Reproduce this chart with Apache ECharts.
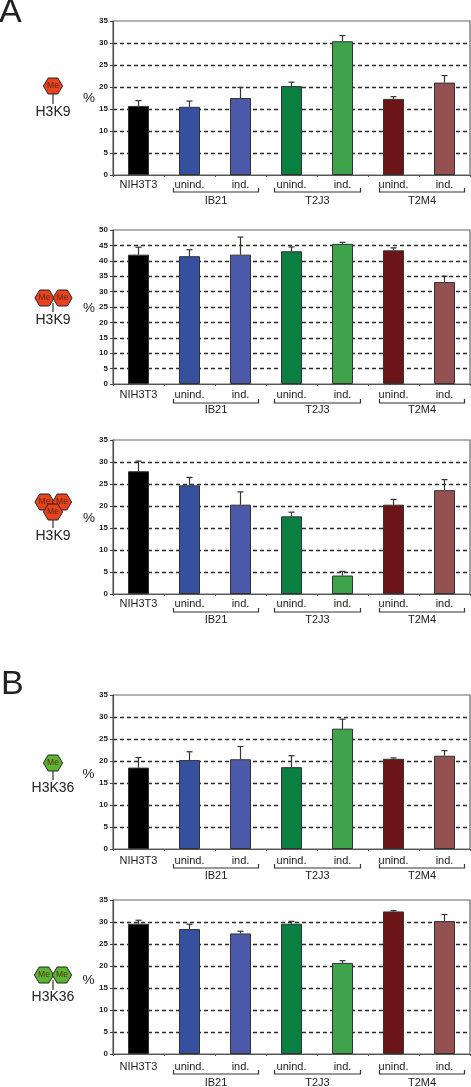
<!DOCTYPE html>
<html>
<head>
<meta charset="utf-8">
<style>html,body{margin:0;padding:0;background:#fff}#c{width:471px;height:1087px}</style>
<script src="https://cdn.jsdelivr.net/npm/echarts@6/dist/echarts.min.js"></script>
</head>
<body>
<div id="c"></div>
<script>
// ---- data ----
const categories = ['NIH3T3', 'unind.', 'ind.', 'unind.', 'ind.', 'unind.', 'ind.'];
const barColors = ['#000000', '#34509f', '#4c59a8', '#0a7f42', '#3fa34b', '#6c1519', '#955052'];
const groupNames = ['IB21', 'T2J3', 'T2M4'];
const groupSpans = [[1, 2], [3, 4], [5, 6]];

const h3k9me1 = [15.7, 15.5, 17.5, 20.2, 30.4, 17.3, 21.0];
const h3k9me1Top = [16.9, 16.8, 19.9, 21.1, 31.7, 17.8, 22.6];
const h3k9me2 = [42.0, 41.5, 42.0, 43.1, 45.5, 43.4, 33.1];
const h3k9me2Top = [44.4, 43.6, 47.7, 44.5, 46.0, 44.2, 35.0];
const h3k9me3 = [27.9, 24.7, 20.3, 17.65, 4.2, 20.3, 23.6];
const h3k9me3Top = [30.2, 26.5, 23.2, 18.6, 5.15, 21.5, 26.0];
const h3k36me1 = [18.5, 20.2, 20.4, 18.6, 27.35, 20.5, 21.2];
const h3k36me1Top = [20.8, 22.1, 23.3, 21.2, 29.5, 20.7, 22.35];
const h3k36me2 = [29.6, 28.4, 27.4, 29.6, 20.7, 32.4, 30.2];
const h3k36me2Top = [30.4, 29.5, 27.9, 30.15, 21.2, 32.6, 31.7];

const panelValues = [h3k9me1, h3k9me2, h3k9me3, h3k36me1, h3k36me2];
const panelTops = [h3k9me1Top, h3k9me2Top, h3k9me3Top, h3k36me1Top, h3k36me2Top];
const panelMax = [35, 50, 35, 35, 35];
const panelMarks = ['H3K9', 'H3K9', 'H3K9', 'H3K36', 'H3K36'];

// ---- layout and style ----
const FONT = '"Liberation Sans", Arial, sans-serif';
const panelBox = [[21, 175], [230, 384], [440, 594], [695, 849], [900, 1054]];
const plotLeft = 113, plotWidth = 357;
const labelMargin = [4, 5, 4, 6, 7];
const bracketTop = [13, 15, 14, 15, 16];
const groupTextY = [26, 26, 26, 27, 29];
const bracketPadL = [16, 17, 14], bracketPadR = [18, 18, 20];
const panelGlyphs = [
  {hex: [[53, 86]], fill: '#e8431c', stemTop: 94, stemEnd: 104, labelY: 112, pctX: 89, pctY: 98},
  {hex: [[44.5, 298], [62.5, 298]], fill: '#e8431c', stemTop: 303, stemEnd: 312, labelY: 320, pctX: 89, pctY: 308},
  {hex: [[44.5, 502], [62, 502], [53, 512]], fill: '#e8431c', stemTop: 520, stemEnd: 528, labelY: 536, pctX: 89, pctY: 518},
  {hex: [[53, 763]], fill: '#5cb531', stemTop: 771, stemEnd: 780, labelY: 788, pctX: 88.5, pctY: 774},
  {hex: [[44, 975], [62, 975]], fill: '#5cb531', stemTop: 980, stemEnd: 990, labelY: 997, pctX: 88.5, pctY: 980}
];

const grids = [], xAxes = [], yAxes = [], series = [];
panelValues.forEach((vals, p) => {
  const [top, bottom] = panelBox[p];
  grids.push({left: plotLeft, width: plotWidth, top: top, height: bottom - top,
    show: true, borderColor: '#666', borderWidth: 1.2, backgroundColor: 'transparent'});
  xAxes.push({type: 'category', gridIndex: p, data: categories,
    axisLine: {lineStyle: {color: '#555', width: 1.2}},
    axisTick: {show: true, length: 2, alignWithLabel: false, lineStyle: {color: '#555'}},
    axisLabel: {interval: 0, margin: labelMargin[p], fontFamily: FONT, fontSize: 11, color: '#222'}});
  yAxes.push({type: 'value', gridIndex: p, min: 0, max: panelMax[p], interval: 5,
    axisLine: {show: true, lineStyle: {color: '#555', width: 1.2}},
    axisTick: {show: true, length: 3, lineStyle: {color: '#444'}},
    axisLabel: {margin: 5, fontFamily: FONT, fontSize: 8, fontWeight: 'bold', color: '#222'},
    splitLine: {show: true, showMinLine: false, showMaxLine: false,
      lineStyle: {color: '#2b2b2b', type: [4, 3], width: 1.3}}});
  series.push({type: 'bar', xAxisIndex: p, yAxisIndex: p, barWidth: 21, z: 3,
    data: vals.map((v, i) => ({value: v, itemStyle: {color: barColors[i], borderColor: '#333', borderWidth: 1}})),
    silent: true, animation: false});
  // error bars (upper whisker only)
  series.push({type: 'custom', xAxisIndex: p, yAxisIndex: p, z: 2, silent: true, animation: false,
    data: vals.map((v, i) => [i, v, panelTops[p][i]]),
    encode: {x: 0, y: 2},
    renderItem: (params, api) => {
      const a = api.coord([api.value(0), api.value(1)]);
      const b = api.coord([api.value(0), api.value(2)]);
      const st = {stroke: '#333', lineWidth: 1.2};
      return {type: 'group', children: [
        {type: 'line', shape: {x1: a[0], y1: a[1], x2: b[0], y2: b[1]}, style: st},
        {type: 'line', shape: {x1: b[0] - 3, y1: b[1], x2: b[0] + 3, y2: b[1]}, style: st}
      ]};
    }});
  // group brackets with their names
  series.push({type: 'custom', xAxisIndex: p, yAxisIndex: p, z: 2, silent: true, animation: false, clip: false,
    data: groupSpans.map(s => [s[0], s[1]]),
    encode: {x: [0, 1]},
    renderItem: (params, api) => {
      const g = params.dataIndex;
      const a = api.coord([api.value(0), 0]);
      const b = api.coord([api.value(1), 0]);
      const x1 = a[0] - bracketPadL[g], x2 = b[0] + bracketPadR[g];
      const y0 = a[1] + bracketTop[p], y1 = y0 + 4;
      return {type: 'group', children: [
        {type: 'polyline', shape: {points: [[x1, y0], [x1, y1], [x2, y1], [x2, y0]]},
          style: {stroke: '#333', lineWidth: 1.2, fill: null}},
        {type: 'text', style: {x: (x1 + x2) / 2, y: a[1] + groupTextY[p], text: groupNames[g],
          fontFamily: FONT, fontSize: 11, fill: '#222', align: 'center', verticalAlign: 'middle'}}
      ]};
    }});
});

function hexPoints(cx, cy) {
  const rx = 9.6, ry = 8, inset = 4.8;
  return [[cx - rx, cy], [cx - rx + inset, cy - ry], [cx + rx - inset, cy - ry],
          [cx + rx, cy], [cx + rx - inset, cy + ry], [cx - rx + inset, cy + ry]];
}
const graphics = [
  {type: 'text', left: -1, top: -4, style: {text: 'A', fontFamily: FONT, fontSize: 34, fill: '#222'}},
  {type: 'text', left: 1, top: 668, style: {text: 'B', fontFamily: FONT, fontSize: 34, fill: '#222'}}
];
panelGlyphs.forEach((g, p) => {
  const stemX = 53;
  graphics.push({type: 'line', z: 1, shape: {x1: stemX, y1: g.stemTop, x2: stemX, y2: g.stemEnd}, style: {stroke: '#333', lineWidth: 1.2}});
  g.hex.forEach(([cx, cy]) => {
    graphics.push({type: 'polygon', z: 2, shape: {points: hexPoints(cx, cy)}, style: {fill: g.fill, stroke: '#222', lineWidth: 1}});
    graphics.push({type: 'text', z: 3, x: cx, y: cy, style: {text: 'Me', fontFamily: FONT, fontSize: 8.5,
      fill: '#5a2a14', align: 'center', verticalAlign: 'middle'}});
  });
  graphics.push({type: 'text', x: 53, y: g.labelY, style: {text: panelMarks[p], fontFamily: FONT, fontSize: 14,
    fill: '#222', align: 'center', verticalAlign: 'middle'}});
  graphics.push({type: 'text', x: g.pctX, y: g.pctY, style: {text: '%', fontFamily: FONT, fontSize: 13.5,
    fill: '#222', align: 'center', verticalAlign: 'middle'}});
});

const chart = echarts.init(document.getElementById('c'), null, {renderer: 'canvas'});
chart.setOption({
  animation: false, backgroundColor: '#fff',
  grid: grids, xAxis: xAxes, yAxis: yAxes, series: series, graphic: graphics
});
</script>
</body>
</html>
